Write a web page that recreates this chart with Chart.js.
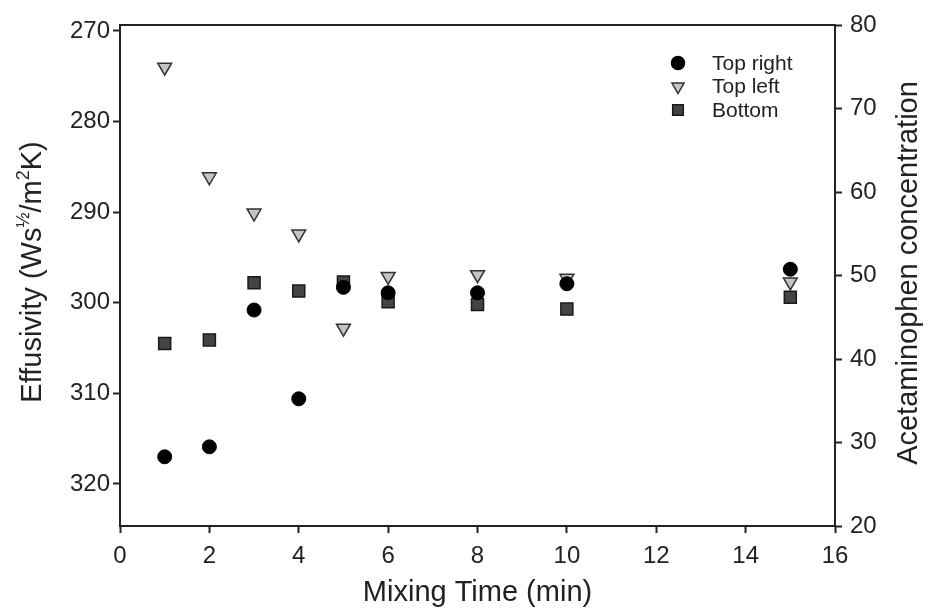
<!DOCTYPE html>
<html lang="en">
<head>
   <meta charset="UTF-8">
   <title>Effusivity vs Mixing Time</title>
   <script src="https://cdn.jsdelivr.net/npm/chart.js@4.4.0/dist/chart.umd.min.js"></script>
   <style>
      html, body { margin: 0; padding: 0; background: #fff; }
      #wrap { width: 928px; height: 613px; }
   </style>
</head>
<body>
   <div id="wrap">
      <canvas id="effChart" width="928" height="613"></canvas>
   </div>
   <script>
      // data (left axis units)
      var mixTimes = [1, 2, 3, 4, 5, 6, 8, 10, 15];
      var topRight = [317.0, 315.9, 300.8, 310.6, 298.3, 298.9, 298.9, 297.9, 296.3];
      var topLeft  = [274.0, 286.1, 290.1, 292.4, 302.8, 297.1, 296.9, 297.3, 297.7];
      var bottom   = [304.5, 304.1, 297.8, 298.7, 297.7, 299.9, 300.2, 300.7, 299.4];

      var xTicks     = [0, 2, 4, 6, 8, 10, 12, 14, 16];
      var leftTicks  = [270, 280, 290, 300, 310, 320];
      var rightTicks = [20, 30, 40, 50, 60, 70, 80];

      var FONT = '"Liberation Sans", Arial, Helvetica, sans-serif';
      var INK = '#222';

      function pts(ys) {
         return mixTimes.map(function (x, i) { return { x: x, y: ys[i] }; });
      }
      function fixTicks(list) {
         return function (scale) {
            scale.ticks = list.map(function (v) { return { value: v }; });
         };
      }

      // frame, rotated axis titles and legend box
      var extras = {
         id: 'extras',
         afterDraw: function (chart) {
            var ctx = chart.ctx, a = chart.chartArea;
            ctx.save();
            ctx.strokeStyle = INK;
            ctx.lineWidth = 2;
            ctx.strokeRect(a.left, a.top, a.right - a.left, a.bottom - a.top);

            // left title with superscripts
            var big = '29px ' + FONT, small = '18px ' + FONT;
            var parts = [
               { t: 'Effusivity (Ws', f: big, up: 0 },
               { t: '½', f: small, up: 12 },
               { t: '/m', f: big, up: 0 },
               { t: '2', f: small, up: 12 },
               { t: 'K)', f: big, up: 0 }
            ];
            var total = 0;
            parts.forEach(function (p) { ctx.font = p.f; p.w = ctx.measureText(p.t).width; total += p.w; });
            ctx.save();
            ctx.translate(41, 272);
            ctx.rotate(-Math.PI / 2);
            ctx.fillStyle = INK;
            ctx.textBaseline = 'alphabetic';
            var cx = -total / 2;
            parts.forEach(function (p) {
               ctx.font = p.f;
               ctx.fillText(p.t, cx, -p.up);
               cx += p.w;
            });
            ctx.restore();

            // right title, reads bottom to top
            ctx.save();
            ctx.translate(909, 273);
            ctx.rotate(-Math.PI / 2);
            ctx.font = '29px ' + FONT;
            ctx.fillStyle = INK;
            ctx.textAlign = 'center';
            ctx.textBaseline = 'middle';
            ctx.fillText('Acetaminophen concentration', 0, 0);
            ctx.restore();

            // legend
            var names = ['Top right', 'Top left', 'Bottom'];
            var lx = 678, ly = 63, gap = 23.5;
            ctx.font = '21px ' + FONT;
            ctx.textBaseline = 'middle';
            ctx.textAlign = 'left';
            chart.data.datasets.forEach(function (ds, i) {
               var y = ly + i * gap;
               ctx.fillStyle = ds.pointBackgroundColor;
               ctx.strokeStyle = ds.pointBorderColor;
               ctx.lineWidth = 1.5;
               Chart.helpers.drawPoint(ctx, {
                  pointStyle: ds.pointStyle,
                  rotation: ds.pointRotation || 0,
                  radius: ds.legendRadius,
                  borderWidth: 1.5
               }, lx, y);
               ctx.fillStyle = INK;
               ctx.fillText(names[i], 712, y + 1);
            });
            ctx.restore();
         }
      };

      var ctx = document.getElementById('effChart').getContext('2d');
      var effChart = new Chart(ctx, {
         type: 'scatter',
         plugins: [extras],
         data: {
            datasets: [{
               label: 'Top right',
               data: pts(topRight),
               pointStyle: 'circle',
               pointRadius: 7,
               legendRadius: 6.5,
               pointBackgroundColor: '#000',
               pointBorderColor: '#000',
               pointBorderWidth: 1
            }, {
               label: 'Top left',
               data: pts(topLeft),
               pointStyle: 'triangle',
               pointRotation: 180,
               pointRadius: 8,
               legendRadius: 7,
               pointBackgroundColor: '#c4c4c4',
               pointBorderColor: '#333',
               pointBorderWidth: 1.5
            }, {
               label: 'Bottom',
               data: pts(bottom),
               pointStyle: 'rect',
               pointRadius: 8.5,
               legendRadius: 7.5,
               pointBackgroundColor: '#444',
               pointBorderColor: '#1a1a1a',
               pointBorderWidth: 1.5
            }]
         },
         options: {
            responsive: false,
            animation: false,
            layout: { padding: { top: 25, left: 0, right: 0, bottom: 0 } },
            plugins: {
               legend: { display: false },
               tooltip: { enabled: false }
            },
            scales: {
               x: {
                  type: 'linear',
                  position: 'bottom',
                  min: 0,
                  max: 16,
                  afterBuildTicks: fixTicks(xTicks),
                  afterFit: function (s) { s.height = 87; },
                  border: { display: true, color: INK, width: 2 },
                  grid: { drawOnChartArea: false, drawTicks: true, tickLength: 7, tickColor: INK, tickWidth: 2 },
                  ticks: { font: { family: FONT, size: 24 }, color: INK, padding: 9, maxRotation: 0 },
                  title: {
                     display: true,
                     text: 'Mixing Time (min)',
                     font: { family: FONT, size: 29 },
                     color: INK,
                     padding: { top: 0, bottom: 3 }
                  }
               },
               y: {
                  type: 'linear',
                  position: 'left',
                  reverse: true,
                  min: 269.34,
                  max: 324.64,
                  afterBuildTicks: fixTicks(leftTicks),
                  afterFit: function (s) { s.width = 120; },
                  border: { display: true, color: INK, width: 2 },
                  grid: { drawOnChartArea: false, drawTicks: true, tickLength: 7, tickColor: INK, tickWidth: 2 },
                  ticks: { font: { family: FONT, size: 24 }, color: INK, padding: 3 }
               },
               y2: {
                  type: 'linear',
                  position: 'right',
                  display: true,
                  min: 20,
                  max: 80,
                  afterBuildTicks: fixTicks(rightTicks),
                  afterFit: function (s) { s.width = 93; },
                  border: { display: true, color: INK, width: 2 },
                  grid: { drawOnChartArea: false, drawTicks: true, tickLength: 7, tickColor: INK, tickWidth: 2 },
                  ticks: { font: { family: FONT, size: 24 }, color: INK, padding: 8 }
               }
            }
         }
      });
   </script>
</body>
</html>
